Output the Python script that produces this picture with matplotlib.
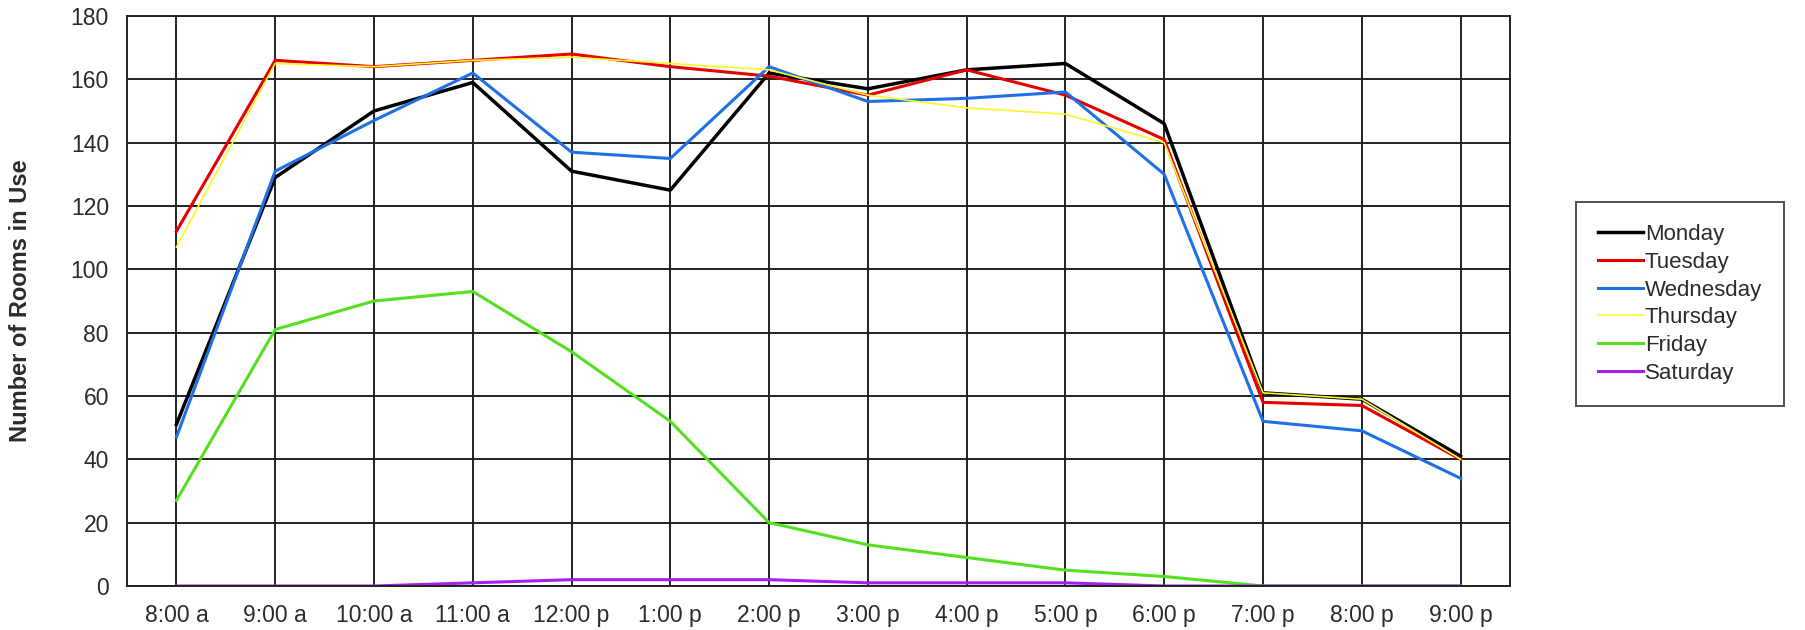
import matplotlib
matplotlib.use("Agg")
import matplotlib.pyplot as plt

plt.rcParams['font.family'] = ['Liberation Sans', 'DejaVu Sans']

# time slots along the x axis
hours = ['8:00 a', '9:00 a', '10:00 a', '11:00 a', '12:00 p', '1:00 p', '2:00 p',
         '3:00 p', '4:00 p', '5:00 p', '6:00 p', '7:00 p', '8:00 p', '9:00 p']

# rooms in use per day
monday    = [51, 129, 150, 159, 131, 125, 162, 157, 163, 165, 146, 61, 59, 41]
tuesday   = [112, 166, 164, 166, 168, 164, 161, 155, 163, 155, 141, 58, 57, 40]
wednesday = [47, 131, 147, 162, 137, 135, 164, 153, 154, 156, 130, 52, 49, 34]
thursday  = [107, 165, 164, 166, 167, 165, 163, 155, 151, 149, 140, 61, 59, 40]
friday    = [27, 81, 90, 93, 74, 52, 20, 13, 9, 5, 3, 0, 0, 0]
saturday  = [0, 0, 0, 1, 2, 2, 2, 1, 1, 1, 0, 0, 0, 0]

y_ticks = [0, 20, 40, 60, 80, 100, 120, 140, 160, 180]

txt_color = '#2b2b2b'
grid_color = '#222222'

fig = plt.figure(figsize=(18.06, 6.30), dpi=100)
ax = fig.add_axes([127 / 1806, 1 - 586 / 630, 1383 / 1806, 570 / 630])

x = range(len(hours))
ax.plot(x, monday, color='#000000', lw=2.5, label='Monday')
ax.plot(x, tuesday, color='#e60000', lw=2.2, label='Tuesday')
ax.plot(x, wednesday, color='#1f6fe5', lw=2.2, label='Wednesday')
ax.plot(x, thursday, color='#f7f72a', lw=1.2, label='Thursday')
ax.plot(x, friday, color='#55e01f', lw=2.2, label='Friday')
ax.plot(x, saturday, color='#a51ff0', lw=2.2, label='Saturday')

ax.set_xlim(-0.5, len(hours) - 0.5)
ax.set_ylim(0, 180)
ax.set_xticks(list(x))
ax.set_xticklabels(hours)
ax.set_yticks(y_ticks)
ax.tick_params(axis='both', length=0, labelsize=16.5, labelcolor=txt_color)
ax.tick_params(axis='y', pad=13)
ax.tick_params(axis='x', pad=13)
ax.grid(True, color=grid_color, lw=1.4)
ax.set_axisbelow(True)
for sp in ax.spines.values():
    sp.set_color(grid_color)
    sp.set_linewidth(1.4)

ax.set_ylabel('Number of Rooms in Use', fontsize=17, fontweight='bold', color=txt_color)
ax.yaxis.set_label_coords(-0.069, 0.5)

leg = fig.legend(loc='upper left', bbox_to_anchor=(1576 / 1806, 1 - 202 / 630),
                 fontsize=16, frameon=True, fancybox=False, edgecolor='#222222',
                 handlelength=2.0, handletextpad=0.1, labelspacing=0.3,
                 borderpad=1.0, borderaxespad=0)
leg.get_frame().set_linewidth(1.4)
for t in leg.get_texts():
    t.set_color(txt_color)

fig.savefig('out.png', dpi=100, facecolor='white')
